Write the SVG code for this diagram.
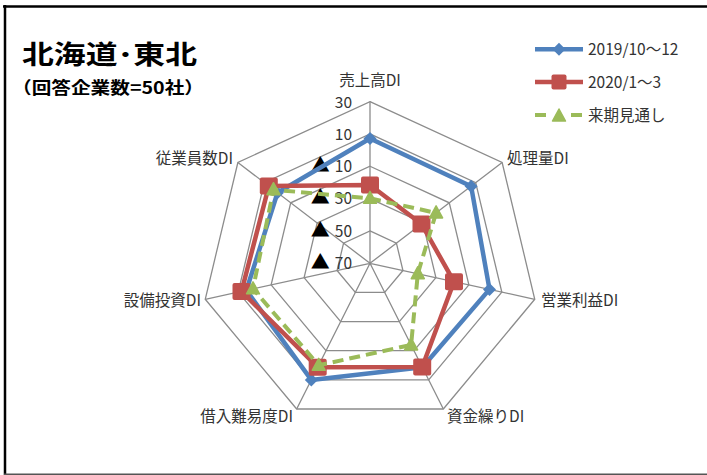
<svg xmlns="http://www.w3.org/2000/svg" width="707" height="475" viewBox="0 0 707 475">
<defs>
<style>
.lbl{font-family:"Noto Sans CJK JP","Noto Sans",sans-serif;font-size:15.5px;fill:#333}
.ttl{font-family:"Noto Sans CJK JP","Noto Sans",sans-serif;font-weight:bold;fill:#000}
.tri{font-size:19px;fill:#000}
.grid{fill:none;stroke:#8c8c8c;stroke-width:1.3}
.blue{fill:none;stroke:#4f81bd;stroke-width:4.5;stroke-linejoin:round}
.red{fill:none;stroke:#c0504d;stroke-width:4.5;stroke-linejoin:round}
.green{fill:none;stroke:#9bbb59;stroke-width:4;stroke-dasharray:11 6}
</style>
<symbol id="dia" overflow="visible"><path d="M0,-6.5 L6.5,0 L0,6.5 L-6.5,0 Z" fill="#4f81bd"/></symbol>
<symbol id="sq" overflow="visible"><rect x="-9" y="-8.5" width="18" height="17" rx="2" fill="#c0504d"/></symbol>
<symbol id="sqs" overflow="visible"><rect x="-7.5" y="-7.5" width="15" height="15" rx="2" fill="#c0504d"/></symbol>
<symbol id="tri" overflow="visible"><path d="M0,-7 L6.5,5 L-6.5,5 Z" fill="#9bbb59" stroke="#9bbb59" stroke-width="1.5" stroke-linejoin="round"/></symbol>
</defs>
<rect width="707" height="475" fill="#fff"/>
<g id="frame">
<line x1="3" y1="6.5" x2="707" y2="6.5" stroke="#000" stroke-width="2.5"/>
<line x1="5" y1="5" x2="5" y2="475" stroke="#000" stroke-width="2.5"/>
<line x1="4" y1="474.3" x2="707" y2="474.3" stroke="#555" stroke-width="1.5"/>
</g>
<g id="title">
<text class="ttl" x="22" y="64" font-size="26" textLength="175" lengthAdjust="spacingAndGlyphs">北海道･東北</text>
<text class="ttl" x="12" y="94" font-size="17" textLength="192" lengthAdjust="spacingAndGlyphs">（回答企業数=50社）</text>
</g>
<g id="grid">
<polygon class="grid" points="370,101.6 502.13,162.48 534.76,299.28 443.33,408.99 296.67,408.99 205.24,299.28 237.87,162.48"/>
<polygon class="grid" points="370,133.94 475.7,182.64 501.81,292.08 428.66,379.85 311.34,379.85 238.19,292.08 264.3,182.64"/>
<polygon class="grid" points="370,166.28 449.28,202.81 468.86,284.89 414,350.71 326,350.71 271.14,284.89 290.72,202.81"/>
<polygon class="grid" points="370,198.62 422.85,222.97 435.9,277.69 399.33,321.58 340.67,321.58 304.1,277.69 317.15,222.97"/>
<polygon class="grid" points="370,230.96 396.43,243.14 402.95,270.5 384.67,292.44 355.33,292.44 337.05,270.5 343.57,243.14"/>
<path class="grid" d="M370,263.3 L370,101.6 M370,263.3 L502.13,162.48 M370,263.3 L534.76,299.28 M370,263.3 L443.33,408.99 M370,263.3 L296.67,408.99 M370,263.3 L205.24,299.28 M370,263.3 L237.87,162.48"/>
</g>
<g id="axis-values" class="lbl">
<text x="352" y="108" text-anchor="end">30</text>
<text x="352" y="139.5" text-anchor="end">10</text>
<text x="352" y="172" text-anchor="end"><tspan class="tri">▲</tspan><tspan dx="5">10</tspan></text>
<text x="352" y="204" text-anchor="end"><tspan class="tri">▲</tspan><tspan dx="5">30</tspan></text>
<text x="352" y="236.5" text-anchor="end"><tspan class="tri">▲</tspan><tspan dx="5">50</tspan></text>
<text x="352" y="269" text-anchor="end"><tspan class="tri">▲</tspan><tspan dx="5">70</tspan></text>
</g>
<g id="axis-labels" class="lbl">
<text x="370" y="86" text-anchor="middle">売上高DI</text>
<text x="507" y="163.5">処理量DI</text>
<text x="541" y="306">営業利益DI</text>
<text x="447" y="422">資金繰りDI</text>
<text x="293" y="422" text-anchor="end">借入難易度DI</text>
<text x="201" y="306" text-anchor="end">設備投資DI</text>
<text x="233" y="163.5" text-anchor="end">従業員数DI</text>
</g>
<g id="connectors">
<polygon class="blue" points="370,138.5 471.1,186.2 489.5,289.4 422.4,367.3 311.3,379.9 246.4,290.3 277.5,192.7"/>
<g id="blue-markers">
<use href="#dia" x="370" y="138.5"/><use href="#dia" x="471.1" y="186.2"/><use href="#dia" x="489.5" y="289.4"/><use href="#dia" x="422.4" y="367.3"/><use href="#dia" x="311.3" y="379.9"/><use href="#dia" x="246.4" y="290.3"/><use href="#dia" x="277.5" y="192.7"/>
</g>
<polygon class="red" points="370,185 421.5,224 454,281.7 422.2,367 317.7,367.2 241.5,291.4 268.8,186.1"/>
<g id="red-markers">
<use href="#sq" x="370" y="185"/><use href="#sq" x="421.5" y="224"/><use href="#sq" x="454" y="281.7"/><use href="#sq" x="422.2" y="367"/><use href="#sq" x="317.7" y="367.2"/><use href="#sq" x="241.5" y="291.4"/><use href="#sq" x="268.8" y="186.1"/>
</g>
<polygon class="green" points="370,198.3 436.1,212.9 417.8,273.7 411.1,344.9 318.7,365.3 253,288.8 273.5,189.7"/>
<g id="green-markers">
<use href="#tri" x="370" y="198.3"/><use href="#tri" x="436.1" y="212.9"/><use href="#tri" x="417.8" y="273.7"/><use href="#tri" x="411.1" y="344.9"/><use href="#tri" x="318.7" y="365.3"/><use href="#tri" x="253" y="288.8"/><use href="#tri" x="273.5" y="189.7"/>
</g>
</g>
<g id="legend">
<line class="blue" x1="535" y1="49.3" x2="583" y2="49.3"/><use href="#dia" x="559" y="49.3"/>
<text class="lbl" x="588" y="54.8" font-size="14.5px">2019/10～12</text>
<line class="red" x1="535" y1="82" x2="583" y2="82"/><use href="#sqs" x="559" y="82"/>
<text class="lbl" x="588" y="87.5" font-size="14.5px">2020/1～3</text>
<line class="green" x1="535" y1="115" x2="583" y2="115" style="stroke-dasharray:11 25"/><use href="#tri" x="559" y="116"/>
<text class="lbl" x="588" y="120.5" font-size="14.5px">来期見通し</text>
</g>
</svg>
